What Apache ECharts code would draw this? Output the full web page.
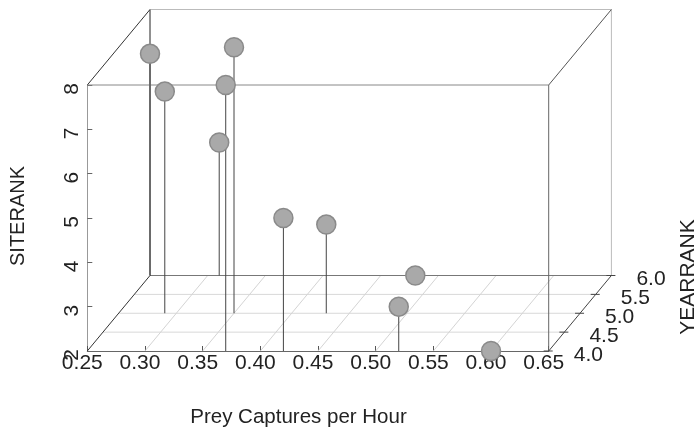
<!DOCTYPE html>
<html><head><meta charset="utf-8">
<script src="https://cdn.jsdelivr.net/npm/echarts@6/dist/echarts.min.js"></script>
<style>html,body{margin:0;padding:0;background:#fff}#c{width:697px;height:429px}</style>
</head><body><div id="c"></div>
<script>
// ---- data ----
const prey      = [0.25, 0.29, 0.35, 0.37, 0.31, 0.42, 0.43, 0.48, 0.52, 0.60];
const siteRank  = [7,    7,    8,    8,    5,    5,    4,    2,    3,    2   ];
const yearRank  = [6,    5,    5,    4,    6,    4,    5,    6,    4,    4   ];
const xTicks    = [0.25, 0.30, 0.35, 0.40, 0.45, 0.50, 0.55, 0.60, 0.65];
const siteTicks = [2, 3, 4, 5, 6, 7, 8];
const yearTicks = [4.0, 4.5, 5.0, 5.5, 6.0];

const X_MIN = xTicks[0], X_MAX = xTicks[xTicks.length - 1];
const S_MIN = siteTicks[0], S_MAX = siteTicks[siteTicks.length - 1];
const Y_MIN = yearTicks[0], Y_MAX = yearTicks[yearTicks.length - 1];
const DEPTH = [62.7, -75.5]; // oblique projection vector for the full YEARRANK range

function proj(api, x, s, yr) {
  const p = api.coord([x, s]);
  const t = (yr - Y_MIN) / (Y_MAX - Y_MIN);
  return [p[0] + t * DEPTH[0], p[1] + t * DEPTH[1]];
}
function seg(a, b, color, w) {
  return { type: 'line', silent: true,
    shape: { x1: a[0], y1: a[1], x2: b[0], y2: b[1] },
    style: { stroke: color, lineWidth: w || 1 } };
}

const points = prey.map((v, i) => [v, siteRank[i], yearRank[i]]);
const FONT = 'Liberation Sans, Arial, sans-serif';
const TXT = '#222';

const chart = echarts.init(document.getElementById('c'), null, { renderer: 'canvas' });
chart.setOption({
  animation: false,
  backgroundColor: '#fff',
  grid: { left: 87.3, top: 85, width: 461.4, height: 266, containLabel: false, outerBoundsMode: 'none' },
  xAxis: {
    type: 'value', min: X_MIN, max: X_MAX, interval: 0.05,
    axisLine: { show: true, lineStyle: { color: '#666', width: 1 } },
    axisTick: { show: true, inside: true, length: 5, lineStyle: { color: '#555' } },
    axisLabel: { formatter: v => v.toFixed(2), fontSize: 21, color: TXT, fontFamily: FONT, margin: 2, padding: [0, 10, 0, 0] },
    splitLine: { show: false }
  },
  yAxis: {
    type: 'value', min: S_MIN, max: S_MAX, interval: 1,
    axisLine: { show: true, lineStyle: { color: '#999', width: 1 } },
    axisTick: { show: true, inside: true, length: 5, lineStyle: { color: '#666' } },
    axisLabel: { rotate: 90, fontSize: 21, color: TXT, fontFamily: FONT, margin: 5, padding: [0, 8, 0, 0] },
    splitLine: { show: false }
  },
  graphic: [
    { type: 'text', x: 18.5, y: 216, rotation: Math.PI / 2,
      style: { text: 'SITERANK', fontSize: 20, fill: TXT, fontFamily: FONT, align: 'center', verticalAlign: 'middle' } },
    { type: 'text', x: 688, y: 277, rotation: Math.PI / 2,
      style: { text: 'YEARRANK', fontSize: 21, fill: TXT, fontFamily: FONT, align: 'center', verticalAlign: 'middle' } },
    { type: 'text', x: 298.5, y: 417,
      style: { text: 'Prey Captures per Hour', fontSize: 20.5, fill: TXT, fontFamily: FONT, align: 'center', verticalAlign: 'middle' } }
  ],
  series: [
    { // box, floor grid and YEARRANK axis
      type: 'custom', coordinateSystem: 'cartesian2d', z: 1, silent: true,
      data: [[X_MIN, S_MIN]],
      renderItem: function (params, api) {
        const ch = [];
        yearTicks.slice(1, -1).forEach(yr => ch.push(seg(proj(api, X_MIN, S_MIN, yr), proj(api, X_MAX, S_MIN, yr), '#d8d8d8')));
        xTicks.slice(1, -1).forEach(x => ch.push(seg(proj(api, x, S_MIN, Y_MIN), proj(api, x, S_MIN, Y_MAX), '#d4d4d4')));
        ch.push(seg(proj(api, X_MIN, S_MIN, Y_MAX), proj(api, X_MAX, S_MIN, Y_MAX), '#777'));
        ch.push(seg(proj(api, X_MIN, S_MIN, Y_MIN), proj(api, X_MIN, S_MIN, Y_MAX), '#333'));
        ch.push(seg(proj(api, X_MAX, S_MIN, Y_MIN), proj(api, X_MAX, S_MIN, Y_MAX), '#444'));
        ch.push(seg(proj(api, X_MIN, S_MIN, Y_MAX), proj(api, X_MIN, S_MAX, Y_MAX), '#222'));
        ch.push(seg(proj(api, X_MAX, S_MIN, Y_MAX), proj(api, X_MAX, S_MAX, Y_MAX), '#bbb'));
        ch.push(seg(proj(api, X_MIN, S_MAX, Y_MAX), proj(api, X_MAX, S_MAX, Y_MAX), '#bbb'));
        ch.push(seg(proj(api, X_MIN, S_MAX, Y_MIN), proj(api, X_MIN, S_MAX, Y_MAX), '#333'));
        ch.push(seg(proj(api, X_MAX, S_MAX, Y_MIN), proj(api, X_MAX, S_MAX, Y_MAX), '#555'));
        ch.push(seg(proj(api, X_MIN, S_MAX, Y_MIN), proj(api, X_MAX, S_MAX, Y_MIN), '#888'));
        ch.push(seg(proj(api, X_MAX, S_MIN, Y_MIN), proj(api, X_MAX, S_MAX, Y_MIN), '#666'));
        yearTicks.forEach(yr => {
          const p = proj(api, X_MAX, S_MIN, yr);
          ch.push(seg([p[0] - 5, p[1]], [p[0] + 4, p[1]], '#444'));
          ch.push({ type: 'text', silent: true, x: p[0] + 25, y: p[1] + 4,
            style: { text: yr.toFixed(1), fontSize: 21, fill: TXT, fontFamily: FONT, align: 'left', verticalAlign: 'middle' } });
        });
        return { type: 'group', children: ch };
      }
    },
    { // drop lines
      type: 'custom', coordinateSystem: 'cartesian2d', z: 2, silent: true,
      data: points,
      encode: { x: 0, y: 1 },
      renderItem: function (params, api) {
        const x = api.value(0), s = api.value(1), yr = api.value(2);
        return seg(proj(api, x, S_MIN, yr), proj(api, x, s, yr), '#444');
      }
    },
    { // points
      type: 'custom', coordinateSystem: 'cartesian2d', z: 3, silent: true,
      data: points,
      encode: { x: 0, y: 1 },
      renderItem: function (params, api) {
        const p = proj(api, api.value(0), api.value(1), api.value(2));
        return { type: 'circle', shape: { cx: p[0], cy: p[1], r: 9.5 },
          style: { fill: '#a9a9a9', stroke: '#8a8a8a', lineWidth: 1.5 } };
      }
    }
  ]
});
</script></body></html>
